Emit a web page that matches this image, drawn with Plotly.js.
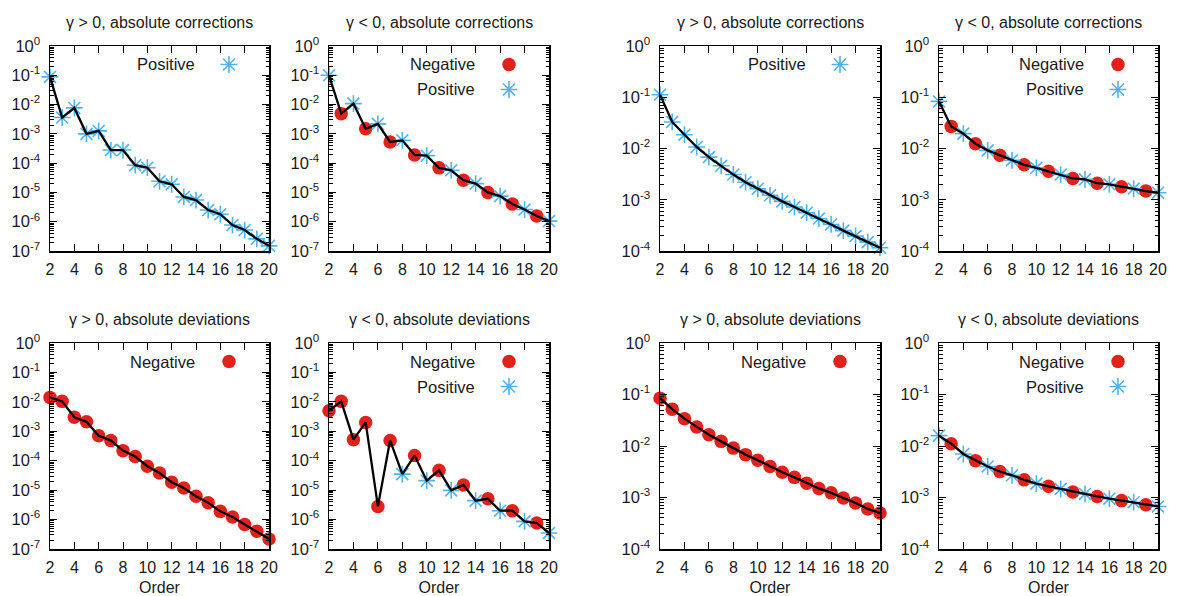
<!DOCTYPE html>
<html>
<head>
<meta charset="utf-8">
<script src="https://cdn.plot.ly/plotly-3.0.1.min.js"></script>
<style>html,body{margin:0;padding:0;background:#fff;}#chart{width:1184px;height:596px;}</style>
</head>
<body>
<div id="chart"></div>
<script>
// ---------- data ----------
const order = [2,3,4,5,6,7,8,9,10,11,12,13,14,15,16,17,18,19,20];

const titles = [
  "γ > 0, absolute corrections", "γ < 0, absolute corrections",
  "γ > 0, absolute corrections", "γ < 0, absolute corrections",
  "γ > 0, absolute deviations",  "γ < 0, absolute deviations",
  "γ > 0, absolute deviations",  "γ < 0, absolute deviations"
];

// panel 1: left group, γ>0, corrections
const p1Values = [0.088,0.0036,0.0077,0.0010,0.00126,0.00028,0.00028,8.5e-5,7.0e-5,2.4e-5,1.9e-5,7.0e-6,5.5e-6,2.5e-6,1.8e-6,7.7e-7,5.2e-7,2.6e-7,1.5e-7];
const p1Signs  = ["P","P","P","P","P","P","P","P","P","P","P","P","P","P","P","P","P","P","P"];
// panel 2: left group, γ<0, corrections
const p2Values = [0.10,0.0049,0.0108,0.0015,0.0022,0.00053,0.00060,0.00019,0.00018,6.9e-5,5.7e-5,2.6e-5,2.0e-5,1.0e-5,7.5e-6,4.0e-6,2.6e-6,1.56e-6,1.05e-6];
const p2Signs  = ["P","N","P","N","P","N","P","N","P","N","P","N","P","N","P","N","P","N","P"];
// panel 3: right group, γ>0, corrections
const p3Values = [0.112,0.033,0.0186,0.0107,0.0068,0.0046,0.0031,0.0022,0.00164,0.00122,0.00093,0.00072,0.00056,0.00043,0.00033,0.00025,0.000196,0.000149,0.000116];
const p3Signs  = ["P","P","P","P","P","P","P","P","P","P","P","P","P","P","P","P","P","P","P"];
// panel 4: right group, γ<0, corrections
const p4Values = [0.083,0.027,0.0195,0.0124,0.0092,0.0074,0.0059,0.0048,0.0042,0.0036,0.0031,0.0026,0.0025,0.0021,0.0020,0.0018,0.00165,0.00148,0.00137];
const p4Signs  = ["P","N","P","N","P","N","P","N","P","N","P","N","P","N","P","N","P","N","P"];
// panel 5: left group, γ>0, deviations
const p5Values = [0.0142,0.0104,0.0030,0.0021,0.00071,0.00049,0.00022,0.00014,6.5e-5,3.8e-5,1.85e-5,1.18e-5,6.2e-6,3.7e-6,1.9e-6,1.23e-6,6.8e-7,4.0e-7,2.2e-7];
const p5Signs  = ["N","N","N","N","N","N","N","N","N","N","N","N","N","N","N","N","N","N","N"];
// panel 6: left group, γ<0, deviations
const p6Values = [0.0050,0.0104,0.00052,0.0020,2.8e-6,0.00049,3.5e-5,0.00015,2.1e-5,4.7e-5,9.8e-6,1.5e-5,4.4e-6,5.1e-6,2.0e-6,2.0e-6,8.7e-7,7.6e-7,3.5e-7];
const p6Signs  = ["N","N","N","N","N","N","P","N","P","N","P","N","P","N","P","N","P","N","P"];
// panel 7: right group, γ>0, deviations
const p7Values = [0.085,0.052,0.034,0.0234,0.0166,0.0123,0.0091,0.0068,0.0053,0.0040,0.0031,0.00246,0.0019,0.0015,0.00123,0.00098,0.00078,0.00060,0.00050];
const p7Signs  = ["N","N","N","N","N","N","N","N","N","N","N","N","N","N","N","N","N","N","N"];
// panel 8: right group, γ<0, deviations
const p8Values = [0.0159,0.0111,0.0070,0.0052,0.0040,0.0032,0.0027,0.0022,0.00186,0.00165,0.00147,0.00128,0.00117,0.00105,0.00095,0.00087,0.00081,0.00072,0.00067];
const p8Signs  = ["P","N","P","N","P","N","P","N","P","N","P","N","P","N","P","N","P","N","P"];

const xTickVals = [2,4,6,8,10,12,14,16,18,20];
const yTickValsLeft  = [1,1e-1,1e-2,1e-3,1e-4,1e-5,1e-6,1e-7];
const yTickTextLeft  = ["10<sup>0</sup>","10<sup>-1</sup>","10<sup>-2</sup>","10<sup>-3</sup>","10<sup>-4</sup>","10<sup>-5</sup>","10<sup>-6</sup>","10<sup>-7</sup>"];
const yTickValsRight = [1,1e-1,1e-2,1e-3,1e-4];
const yTickTextRight = ["10<sup>0</sup>","10<sup>-1</sup>","10<sup>-2</sup>","10<sup>-3</sup>","10<sup>-4</sup>"];

const legendNames = {N: "Negative", P: "Positive"};

// ---------- styling / layout ----------
const W = 1184, H = 596;
const RED = "#e3211b", BLUE = "#55b3e8";
const FONT = "Liberation Sans, Arial, Helvetica, sans-serif";

const values = [p1Values,p2Values,p3Values,p4Values,p5Values,p6Values,p7Values,p8Values];
const signs  = [p1Signs,p2Signs,p3Signs,p4Signs,p5Signs,p6Signs,p7Signs,p8Signs];
const colsPx = [[50,269],[329,549],[660,880],[939,1158]];
const rowsPx = [[46,251],[343,549]];
const titleY = [22,319];

function minorVals(lo, hi){
  const out = [];
  for(let d = lo; d < hi; d++){
    for(let k = 2; k <= 9; k++) out.push(k*Math.pow(10,d));
  }
  return out;
}

const traces = [];
const layout = {
  width: W, height: H,
  margin: {l:0, r:0, t:0, b:0},
  paper_bgcolor: "#fff", plot_bgcolor: "#fff",
  showlegend: false,
  font: {family: FONT, size: 16, color: "#1a1a1a"},
  annotations: [], shapes: []
};

for(let p = 0; p < 8; p++){
  const row = p < 4 ? 0 : 1;
  const col = p % 4;
  const left = col < 2;
  const [x0,x1] = colsPx[col];
  const [yt,yb] = rowsPx[row];
  const n = p + 1;
  const xa = n === 1 ? "x" : "x" + n;
  const ya = n === 1 ? "y" : "y" + n;
  const xk = n === 1 ? "xaxis" : "xaxis" + n;
  const yk = n === 1 ? "yaxis" : "yaxis" + n;

  const vals = values[p], sg = signs[p];
  const negX = [], negY = [], posX = [], posY = [];
  order.forEach((o,i) => {
    if(sg[i] === "N"){ negX.push(o); negY.push(vals[i]); }
    else { posX.push(o); posY.push(vals[i]); }
  });

  if(negX.length) traces.push({
    type:"scatter", mode:"markers", x:negX, y:negY, xaxis:xa, yaxis:ya,
    name: legendNames.N, cliponaxis:false,
    marker:{symbol:"circle", size:13.5, color:RED, line:{width:0}}
  });
  if(posX.length) traces.push({
    type:"scatter", mode:"markers", x:posX, y:posY, xaxis:xa, yaxis:ya,
    name: legendNames.P, cliponaxis:false,
    marker:{symbol:"asterisk-open", size:14, color:BLUE, line:{width:1.6, color:BLUE}}
  });
  traces.push({
    type:"scatter", mode:"lines", x:order, y:vals, xaxis:xa, yaxis:ya,
    cliponaxis:false, line:{color:"#000", width:2.3}, hoverinfo:"skip"
  });

  const common = {
    ticks:"inside", mirror:"allticks", showline:true, linecolor:"#000", linewidth:1.5,
    tickcolor:"#000", showgrid:false, zeroline:false
  };
  layout[xk] = Object.assign({}, common, {
    domain:[x0/W, x1/W], range:[2,20], anchor:ya,
    tickmode:"array", tickvals:xTickVals, ticklen:7, ticklabelstandoff:3,
    tickfont:{family:FONT, size:16, color:"#1a1a1a"}
  });
  if(row === 1){
    layout[xk].title = {text:"Order", font:{family:FONT, size:16, color:"#1a1a1a"}, standoff:12};
  }
  layout[yk] = Object.assign({}, common, {
    type:"log", domain:[1 - yb/H, 1 - yt/H], anchor:xa,
    range: left ? [-7,0] : [-4,0],
    tickmode:"array",
    tickvals: left ? yTickValsLeft : yTickValsRight,
    ticktext: left ? yTickTextLeft : yTickTextRight,
    ticklen:7, ticklabelstandoff:5,
    tickfont:{family:FONT, size:16.5, color:"#1a1a1a"},
    minor:{tickmode:"array", tickvals: left ? minorVals(-7,0) : minorVals(-4,0), ticks:"inside", ticklen:3.5, tickcolor:"#000", showgrid:false}
  });

  // panel title
  layout.annotations.push({
    xref:"paper", yref:"paper", x:(x0+x1)/2/W, y:1 - titleY[row]/H,
    xanchor:"center", yanchor:"middle", showarrow:false,
    text: titles[p], font:{family:FONT, size:16, color:"#1a1a1a"}
  });

  // legend (text left of sample, gnuplot style)
  const kinds = [];
  if(negX.length) kinds.push("N");
  if(posX.length) kinds.push("P");
  kinds.forEach((k, j) => {
    const cy = yt + 18.5 + 25*j;
    layout.annotations.push({
      xref:"paper", yref:"paper", x:(x1 - 72)/W, y:1 - cy/H,
      xanchor:"right", yanchor:"middle", showarrow:false,
      text: legendNames[k], font:{family:FONT, size:16.5, color:"#1a1a1a"}
    });
    const cx = x1 - 40;
    if(k === "N"){
      layout.shapes.push({
        type:"circle", xref:"paper", yref:"paper",
        xsizemode:"pixel", ysizemode:"pixel", xanchor:cx/W, yanchor:1 - cy/H,
        x0:-6.75, x1:6.75, y0:-6.75, y1:6.75,
        fillcolor:RED, line:{width:0}
      });
    } else {
      layout.shapes.push({
        type:"path", xref:"paper", yref:"paper",
        xsizemode:"pixel", ysizemode:"pixel", xanchor:cx/W, yanchor:1 - cy/H,
        path:"M-8.4,0L8.4,0M0,-8.4L0,8.4M-6,-6L6,6M-6,6L6,-6",
        line:{color:BLUE, width:1.6}
      });
    }
  });
}

Plotly.newPlot("chart", traces, layout, {staticPlot:true, displayModeBar:false});
</script>
</body>
</html>
